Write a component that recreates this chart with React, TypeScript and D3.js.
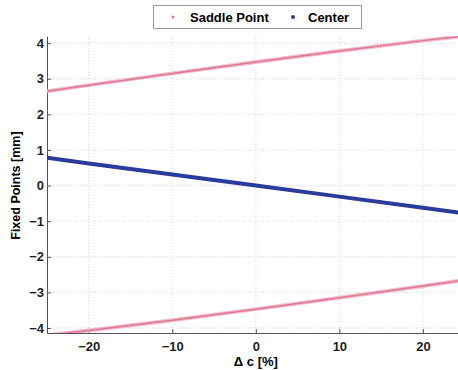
import React, { useEffect, useRef } from 'react';
import * as d3 from 'd3';

// values
const deltaC = [-25, -20, -10, 0, 10, 20, 25];
const saddleUpper = [2.65, 2.82, 3.15, 3.47, 3.78, 4.07, 4.2];
const saddleLower = [-4.2, -4.07, -3.78, -3.47, -3.15, -2.82, -2.65];
const center = [0.78, 0.62, 0.31, 0.0, -0.31, -0.62, -0.78];
const xTicks = [-20, -10, 0, 10, 20];
const yTicks = [-4, -3, -2, -1, 0, 1, 2, 3, 4];

const App = () => {
    const ref = useRef<SVGSVGElement | null>(null);

    useEffect(() => {
        const width = 458;
        const height = 370;
        const svg = d3.select(ref.current);
        svg.selectAll('*').remove();

        const left = 47, right = 458, top = 36, bottom = 333;

        const x = d3.scaleLinear().domain([-25, 24.2]).range([left, right]);
        const y = d3.scaleLinear().domain([-4.14, 4.2]).range([bottom, top]);

        svg.append('rect').attr('width', width).attr('height', height).attr('fill', '#fff');

        const defs = svg.append('defs');
        defs.append('clipPath').attr('id', 'plot-clip')
            .append('rect')
            .attr('x', left).attr('y', top)
            .attr('width', right - left).attr('height', bottom - top);

        // grid
        const grid = svg.append('g').attr('stroke', '#d0d0d0').attr('stroke-width', 1)
            .attr('stroke-dasharray', '1,2');
        xTicks.forEach(t => {
            grid.append('line')
                .attr('x1', x(t)).attr('x2', x(t))
                .attr('y1', top).attr('y2', bottom);
        });
        yTicks.forEach(t => {
            grid.append('line')
                .attr('x1', left).attr('x2', right)
                .attr('y1', y(t)).attr('y2', y(t));
        });

        // axes
        const font = 'Arial, "Liberation Sans", sans-serif';
        const xAxis = svg.append('g')
            .attr('transform', `translate(0,${bottom})`)
            .call(d3.axisBottom(x).tickValues(xTicks).tickSize(-4).tickSizeOuter(0)
                .tickFormat(d => `${d}`.replace('-', '\u2212')));
        const yAxis = svg.append('g')
            .attr('transform', `translate(${left},0)`)
            .call(d3.axisLeft(y).tickValues(yTicks).tickSize(-4).tickSizeOuter(0)
                .tickFormat(d => `${d}`.replace('-', '\u2212')));

        [xAxis, yAxis].forEach(a => {
            a.select('.domain').attr('stroke', '#555').attr('stroke-width', 1);
            a.selectAll('.tick line').attr('stroke', '#555');
            a.selectAll('.tick text')
                .attr('fill', '#222')
                .style('font-family', font)
                .style('font-size', '13px')
                .style('font-weight', 'bold');
        });
        xAxis.selectAll('.tick text').attr('dy', '1.15em');
        yAxis.selectAll('.tick text').attr('x', -3);

        // lines
        const line = d3.line<number>()
            .x((_, i) => x(deltaC[i]))
            .y(d => y(d));

        const plot = svg.append('g').attr('clip-path', 'url(#plot-clip)');
        [saddleUpper, saddleLower].forEach(series => {
            plot.append('path')
                .datum(series)
                .attr('fill', 'none')
                .attr('stroke', '#f2bccb')
                .attr('stroke-width', 4)
                .attr('d', line);
            plot.append('path')
                .datum(series)
                .attr('fill', 'none')
                .attr('stroke', '#de7895')
                .attr('stroke-width', 1.5)
                .attr('d', line);
        });
        plot.append('path')
            .datum(center)
            .attr('fill', 'none')
            .attr('stroke', '#2b3a9c')
            .attr('stroke-width', 4)
            .attr('d', line);

        // axis labels
        svg.append('text')
            .attr('x', x(0))
            .attr('y', 366)
            .attr('text-anchor', 'middle')
            .style('font-family', font)
            .style('font-size', '13px')
            .style('font-weight', 'bold')
            .text('\u0394 c [%]');

        svg.append('text')
            .attr('transform', `translate(16,${y(0)}) rotate(-90)`)
            .attr('text-anchor', 'middle')
            .attr('dy', '0.35em')
            .style('font-family', font)
            .style('font-size', '12.5px')
            .style('font-weight', 'bold')
            .text('Fixed Points [mm]');

        // legend
        const legend = svg.append('g');
        legend.append('rect')
            .attr('x', 153.5).attr('y', 5.5)
            .attr('width', 208).attr('height', 23)
            .attr('fill', '#fff')
            .attr('stroke', '#999');
        legend.append('circle')
            .attr('cx', 173).attr('cy', 17).attr('r', 1.5)
            .attr('fill', '#de7895');
        legend.append('text')
            .attr('x', 190).attr('y', 21.5)
            .style('font-family', font)
            .style('font-size', '13px')
            .style('font-weight', 'bold')
            .text('Saddle Point');
        legend.append('circle')
            .attr('cx', 293).attr('cy', 17).attr('r', 2)
            .attr('fill', '#2b3a9c');
        legend.append('text')
            .attr('x', 308).attr('y', 21.5)
            .style('font-family', font)
            .style('font-size', '13px')
            .style('font-weight', 'bold')
            .text('Center');
    }, []);

    return (
        <div style={{ position: 'absolute', left: 0, top: 0 }}>
            <svg ref={ref} width={458} height={370} style={{ display: 'block' }} />
        </div>
    );
};

export default App;
